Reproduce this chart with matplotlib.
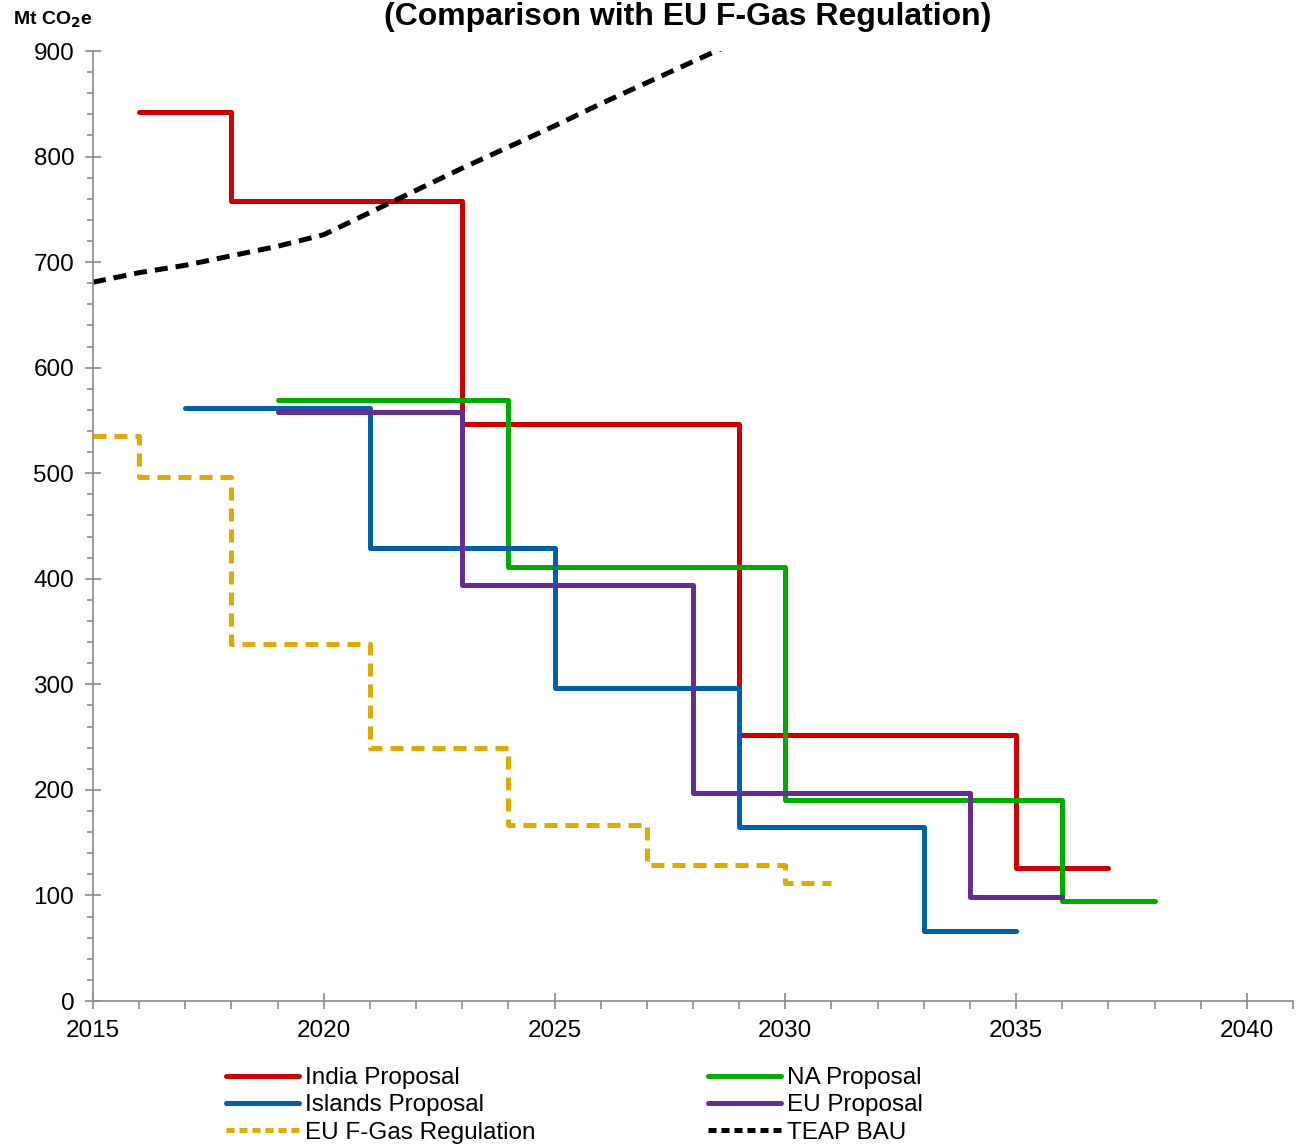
import matplotlib
matplotlib.use("Agg")
import matplotlib.pyplot as plt
from matplotlib.lines import Line2D

plt.rcParams['font.family'] = ['Liberation Sans', 'DejaVu Sans']

# ---- data ----
india_years = [2016, 2018, 2023, 2029, 2035, 2037]
india_vals = [842, 758, 547, 252, 126, 126]

na_years = [2019, 2024, 2030, 2036, 2038]
na_vals = [569, 411, 190, 95, 95]

islands_years = [2017, 2021, 2025, 2029, 2033, 2035]
islands_vals = [562, 429, 297, 165, 66, 66]

eu_years = [2019, 2023, 2028, 2034, 2036]
eu_vals = [558, 394, 197, 99, 99]

fgas_years = [2015, 2016, 2018, 2021, 2024, 2027, 2030, 2031]
fgas_vals = [535, 496, 338, 240, 167, 129, 112, 112]

bau_years = [2015, 2016, 2017, 2018, 2019, 2020, 2021, 2022, 2023, 2024,
             2025, 2026, 2027, 2028, 2029]
bau_vals = [681, 690, 697, 706, 715, 726, 747, 768, 789, 809,
            829, 850, 870, 890, 910]

x_ticks = [2015, 2020, 2025, 2030, 2035, 2040]
y_ticks = [0, 100, 200, 300, 400, 500, 600, 700, 800, 900]

colors = {
    'India Proposal': '#CC0000',
    'NA Proposal': '#00AA00',
    'Islands Proposal': '#0060A8',
    'EU Proposal': '#662D91',
    'EU F-Gas Regulation': '#E0AA00',
    'TEAP BAU': '#000000',
}

W, H = 1297, 1145
fig = plt.figure(figsize=(W / 100, H / 100), dpi=100)
ax = fig.add_axes([93 / W, 1 - 1001 / H, (1293 - 93) / W, (1001 - 51) / H])

lw = 3.6
dash = (2.6, 1.6)
ax.step(india_years, india_vals, where='post', color=colors['India Proposal'], lw=lw,
        solid_capstyle='round', label='India Proposal')
ax.step(na_years, na_vals, where='post', color=colors['NA Proposal'], lw=lw,
        solid_capstyle='round', label='NA Proposal')
ax.step(islands_years, islands_vals, where='post', color=colors['Islands Proposal'], lw=lw,
        solid_capstyle='round', label='Islands Proposal')
ax.step(eu_years, eu_vals, where='post', color=colors['EU Proposal'], lw=lw,
        solid_capstyle='round', label='EU Proposal')
ax.step(fgas_years, fgas_vals, where='post', color=colors['EU F-Gas Regulation'], lw=lw,
        dashes=dash, label='EU F-Gas Regulation')
ax.plot(bau_years, bau_vals, color=colors['TEAP BAU'], lw=lw, dashes=dash,
        label='TEAP BAU')

ax.set_xlim(2015, 2041)
ax.set_ylim(0, 900)
ax.set_xticks(x_ticks)
ax.set_xticks(range(2015, 2042), minor=True)
ax.set_yticks(y_ticks)
ax.set_yticks(range(0, 901, 20), minor=True)

for s in ['top', 'right']:
    ax.spines[s].set_visible(False)
for s in ['left', 'bottom']:
    ax.spines[s].set_color('#8c8c8c')
    ax.spines[s].set_linewidth(1.2)

ax.tick_params(axis='both', which='major', direction='inout', length=11, width=1.2,
               color='#8c8c8c', labelsize=17.5, labelcolor='black')
ax.tick_params(axis='y', which='minor', direction='out', length=4.5, width=1.2, color='#8c8c8c')
ax.tick_params(axis='x', which='minor', direction='out', length=5.5, width=1.2, color='#8c8c8c')
ax.tick_params(axis='y', which='major', pad=8)
ax.tick_params(axis='x', which='major', pad=8)

# title (sits at the very top edge in the reference)
fig.text(688 / W, 1 - 25 / H, '(Comparison with EU F-Gas Regulation)', ha='center',
         va='baseline', fontsize=23, fontweight='bold')
fig.text(13 / W, 1 - 20 / H, 'Mt CO$_\\mathbf{2}$e', ha='left', va='center',
         fontsize=14, fontweight='bold')

handles = [
    Line2D([], [], color=colors['India Proposal'], lw=lw, solid_capstyle='round'),
    Line2D([], [], color=colors['Islands Proposal'], lw=lw, solid_capstyle='round'),
    Line2D([], [], color=colors['EU F-Gas Regulation'], lw=lw, dashes=(1.6, 1.0)),
    Line2D([], [], color=colors['NA Proposal'], lw=lw, solid_capstyle='round'),
    Line2D([], [], color=colors['EU Proposal'], lw=lw, solid_capstyle='round'),
    Line2D([], [], color=colors['TEAP BAU'], lw=lw, dashes=(1.6, 1.0)),
]
labels = ['India Proposal', 'Islands Proposal', 'EU F-Gas Regulation',
          'NA Proposal', 'EU Proposal', 'TEAP BAU']
fig.legend(handles, labels, loc='upper left', bbox_to_anchor=(226 / W, 1 - 1067 / H),
           ncol=2, frameon=False, fontsize=17.5, handlelength=3.0, handletextpad=0.25,
           columnspacing=7.1, labelspacing=0.22, borderpad=0, borderaxespad=0)

fig.savefig('out.png', dpi=100)
